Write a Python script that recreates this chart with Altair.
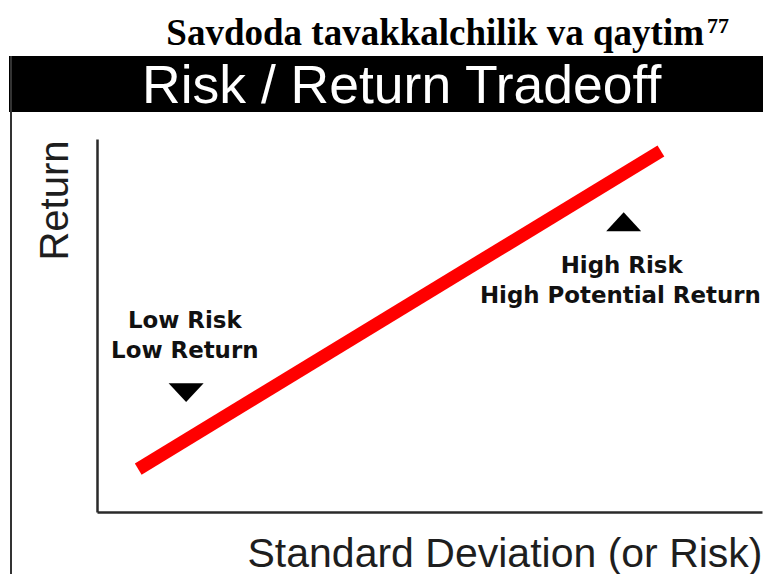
import altair as alt
import pandas as pd

# ---- data ----
risk_line = [0.62, 8.48]          # standard deviation (risk), axis 0..10
return_line = [1.15, 9.68]        # return, axis 0..10

marker_dir = ["down", "up"]
marker_risk = [1.34, 7.92]
marker_return = [3.20, 7.78]

label_text = ["Low Risk", "Low Return", "High Risk", "High Potential Return"]
label_risk = [1.32, 1.32, 7.89, 7.87]
label_return = [4.93, 4.13, 6.41, 5.60]

main_title = "Savdoda tavakkalchilik va qaytim"
title_sup = "77"
banner_title = "Risk / Return Tradeoff"
x_title = "Standard Deviation (or Risk)"
y_title = "Return"

# ---- tables ----
line_df = pd.DataFrame({"risk": risk_line, "ret": return_line})
marker_df = pd.DataFrame({"risk": marker_risk, "ret": marker_return, "dir": marker_dir})
label_df = pd.DataFrame({"risk": label_risk, "ret": label_return, "txt": label_text})
one = pd.DataFrame({"t": [0]})
title_df = pd.DataFrame({"t": [main_title]})
sup_df = pd.DataFrame({"t": [title_sup]})
banner_df = pd.DataFrame({"t": [banner_title]})

x_axis = alt.Axis(
    title=x_title, ticks=False, labels=False, grid=False,
    domainColor="#2a2a2a", domainWidth=2.5,
    titleFont="Liberation Sans", titleFontSize=41, titleFontWeight="normal",
    titleColor="#1e1e1e", titleAlign="right", titleBaseline="alphabetic",
    titleX=665, titleY=54,
)
y_axis = alt.Axis(
    title=y_title, ticks=False, labels=False, grid=False,
    domainColor="#2a2a2a", domainWidth=2.5,
    titleFont="Liberation Sans", titleFontSize=40, titleFontWeight="normal",
    titleColor="#1e1e1e", titleAlign="right", titleBaseline="alphabetic",
    titleAngle=270, titleX=-30, titleY=1,
)
xs = alt.Scale(domain=[0, 10], nice=False, zero=False)
ys = alt.Scale(domain=[0, 10], nice=False, zero=False)


def X():
    return alt.X("risk:Q", scale=xs, axis=x_axis)


def Y():
    return alt.Y("ret:Q", scale=ys, axis=y_axis)


banner = alt.Chart(one).mark_rect(color="black").encode(
    x=alt.value(-88), x2=alt.value(667), y=alt.value(-83), y2=alt.value(-27)
)
border = alt.Chart(one).mark_rule(color="#333333", strokeWidth=2).encode(
    x=alt.value(-86), y=alt.value(-83), y2=alt.value(445)
)
banner_text = alt.Chart(banner_df).mark_text(
    font="Liberation Sans", fontSize=53.5, color="white", align="left", baseline="alphabetic"
).encode(text="t:N", x=alt.value(45), y=alt.value(-36))

title_text = alt.Chart(title_df).mark_text(
    font="Liberation Serif", fontSize=37, fontWeight="bold", color="black",
    align="right", baseline="alphabetic"
).encode(text="t:N", x=alt.value(607), y=alt.value(-94))
sup_text = alt.Chart(sup_df).mark_text(
    font="Liberation Serif", fontSize=22, fontWeight="bold", color="black",
    align="left", baseline="alphabetic"
).encode(text="t:N", x=alt.value(610), y=alt.value(-106))

line = alt.Chart(line_df).mark_line(color="#ff0000", strokeWidth=13, strokeCap="butt").encode(
    x=X(), y=Y()
)

down_path = "M-1,-0.54L1,-0.54L0,0.54Z"
up_path = "M0,-0.54L1,0.54L-1,0.54Z"
markers = alt.Chart(marker_df).mark_point(filled=True, opacity=1, color="black", size=1225, strokeWidth=0).encode(
    x=X(), y=Y(),
    shape=alt.Shape("dir:N", scale=alt.Scale(domain=["down", "up"], range=[down_path, up_path]), legend=None),
)

labels = alt.Chart(label_df).mark_text(
    font="DejaVu Sans", fontSize=22.9, fontWeight="bold", color="#111111",
    align="center", baseline="alphabetic"
).encode(x=X(), y=Y(), text="txt:N")

chart = alt.layer(
    banner, border, banner_text, title_text, sup_text, line, markers, labels
).properties(
    width=665, height=373,
    padding={"left": 89, "top": 131, "right": 1, "bottom": 62},
    autosize=alt.AutoSizeParams(type="none"),
    background="white",
).configure_view(stroke=None)

chart.save("out.html", embed_options={"renderer": "svg", "actions": False})
